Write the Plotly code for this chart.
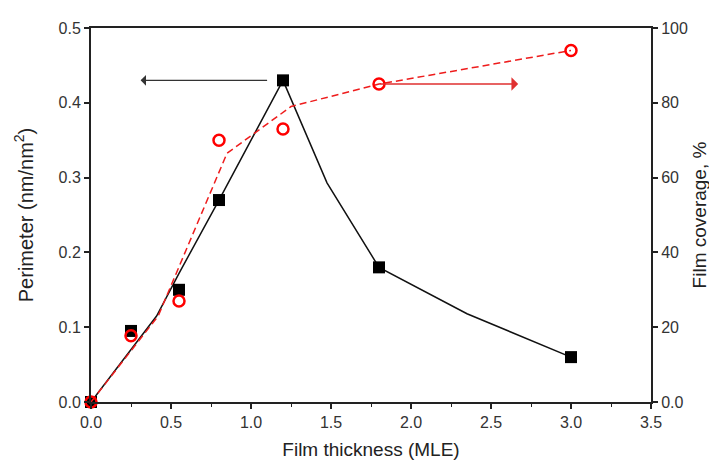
import plotly.graph_objects as go

# Data
thickness = [0, 0.25, 0.55, 0.8, 1.2, 1.8, 3.0]
perimeter = [0, 0.095, 0.15, 0.27, 0.43, 0.18, 0.06]
coverage = [0, 17.7, 27, 70, 73, 85, 94]

perim_fit_x = [0, 0.41, 0.55, 0.8, 1.2, 1.475, 1.8, 2.35, 3.0]
perim_fit_y = [0, 0.115, 0.172, 0.27, 0.43, 0.293, 0.18, 0.118, 0.06]

cov_fit_x = [0, 0.42, 0.85, 1.25, 1.8, 3.0]
cov_fit_y = [0, 23, 66.5, 79, 85, 94]

x_ticks = [0, 0.5, 1.0, 1.5, 2.0, 2.5, 3.0, 3.5]
y_ticks = [0, 0.1, 0.2, 0.3, 0.4, 0.5]
y2_ticks = [0, 20, 40, 60, 80, 100]
y2_ticktext = ["0.0", "20", "40", "60", "80", "100"]

font_family = "Liberation Sans, Arial, sans-serif"
axis_col = "#222222"
red = "#ee1c1c"

fig = go.Figure()
fig.add_trace(go.Scatter(x=perim_fit_x, y=perim_fit_y, mode="lines",
                         line=dict(color="#111111", width=1.5), showlegend=False))
fig.add_trace(go.Scatter(x=cov_fit_x, y=cov_fit_y, mode="lines", yaxis="y2",
                         line=dict(color=red, width=1.5, dash="7px,4px"), showlegend=False))
fig.add_trace(go.Scatter(x=thickness, y=perimeter, mode="markers", cliponaxis=False,
                         marker=dict(symbol="square", size=12, color="#000000"), showlegend=False))
fig.add_trace(go.Scatter(x=thickness, y=coverage, mode="markers", yaxis="y2", cliponaxis=False,
                         marker=dict(symbol="circle-open", size=11, color="#ff0000",
                                     line=dict(width=2.5, color="#ff0000")), showlegend=False))

# Arrows
fig.add_annotation(x=0.31, y=0.43, ax=1.11, ay=0.43, xref="x", yref="y", axref="x", ayref="y",
                   text="", showarrow=True, arrowhead=1, arrowsize=1.5, arrowwidth=1.2,
                   arrowcolor="#333333")
fig.add_annotation(x=2.67, y=85, ax=1.8, ay=85, xref="x", yref="y2", axref="x", ayref="y2",
                   text="", showarrow=True, arrowhead=1, arrowsize=1.5, arrowwidth=1.5,
                   arrowcolor="#e03030")

fig.update_layout(
    width=717, height=463,
    margin=dict(l=83, r=74, t=15, b=69),
    paper_bgcolor="white", plot_bgcolor="white",
    font=dict(family=font_family, size=16, color="#333333"),
    xaxis=dict(range=[0, 3.5], tickvals=x_ticks, ticktext=[f"{v:.1f}" for v in x_ticks],
               showgrid=False, zeroline=False, showline=True, linecolor=axis_col, linewidth=2,
               mirror=True, ticks="outside", ticklen=5, tickwidth=1.5, tickcolor=axis_col,
               minor=dict(dtick=0.25, tick0=0, ticks="outside", ticklen=3, tickwidth=1.2, tickcolor=axis_col),
               title=dict(text="Film thickness (MLE)", font=dict(size=19, color="#222222"), standoff=12)),
    yaxis=dict(range=[0, 0.5], tickvals=y_ticks, ticktext=[f"{v:.1f}" for v in y_ticks],
               showgrid=False, zeroline=False, showline=True, linecolor=axis_col, linewidth=2,
               ticks="outside", ticklen=5, tickwidth=1.5, tickcolor=axis_col,
               title=dict(text="Perimeter (nm/nm<sup>2</sup>)", font=dict(size=20, color="#222222"), standoff=20)),
    yaxis2=dict(range=[0, 100], overlaying="y", side="right", tickvals=y2_ticks, ticktext=y2_ticktext,
                showgrid=False, zeroline=False, showline=True, linecolor=axis_col, linewidth=2,
                ticks="outside", ticklen=5, tickwidth=1.5, tickcolor=axis_col,
                title=dict(text="Film coverage, %", font=dict(size=19, color="#222222"), standoff=6)),
)

fig.write_html("out.html")
